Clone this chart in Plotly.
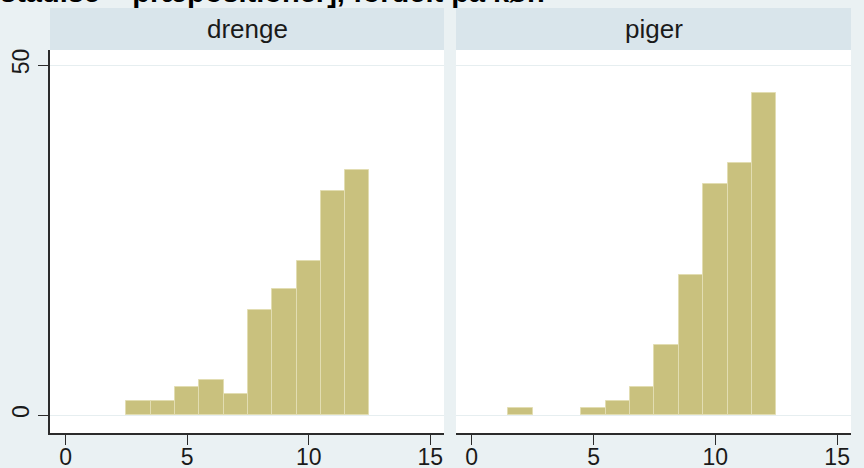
import plotly.graph_objects as go

# Data
panels = ["drenge", "piger"]
drenge_bins = [3, 4, 5, 6, 7, 8, 9, 10, 11, 12]
drenge_counts = [2, 2, 4, 5, 3, 15, 18, 22, 32, 35]
piger_bins = [2, 5, 6, 7, 8, 9, 10, 11, 12]
piger_counts = [1, 1, 2, 4, 10, 20, 33, 36, 46]
x_ticks = [0, 5, 10, 15]
y_ticks = [0, 50]
title_text = "stadise – præpositioner], fordelt på køn"

W, H = 864, 468
BG = "#eaf1f3"
STRIP = "#d9e5eb"
BAR = "#c9c17e"
BAR_LINE = "#e2ddb2"
AX = "#2b2b2b"
FONT = "Liberation Sans, Arial, sans-serif"

def px(x):
    return x / W

def py(y):
    return 1 - y / H

fig = go.Figure()

fig.add_trace(go.Bar(x=drenge_bins, y=drenge_counts, width=1,
                     marker=dict(color=BAR, line=dict(color=BAR_LINE, width=1)),
                     xaxis="x", yaxis="y", showlegend=False))
fig.add_trace(go.Bar(x=piger_bins, y=piger_counts, width=1,
                     marker=dict(color=BAR, line=dict(color=BAR_LINE, width=1)),
                     xaxis="x2", yaxis="y2", showlegend=False))

top, bottom = 50, 433
xr = [-0.646, 15.568]
yr = [-2.571, 52.143]
ydom = [py(bottom), py(top)]

common_x = dict(range=xr, tickvals=x_ticks, ticks="outside", ticklen=10, tickwidth=1.3,
                tickcolor=AX, showline=True, linecolor=AX, linewidth=1.5,
                showgrid=False, zeroline=False, automargin=False,
                ticklabelstandoff=-7,
                tickfont=dict(family=FONT, size=23, color="#1a1a1a"))

fig.update_layout(
    width=W, height=H,
    margin=dict(l=0, r=0, t=0, b=0),
    paper_bgcolor=BG, plot_bgcolor="white",
    bargap=0,
    xaxis=dict(domain=[px(50), px(444)], anchor="y", **common_x),
    xaxis2=dict(domain=[px(456), px(851)], anchor="y2", **common_x),
    yaxis=dict(domain=ydom, range=yr, tickvals=y_ticks, ticks="outside", ticklen=10,
               tickwidth=1.3, tickcolor=AX, showline=True, linecolor=AX, linewidth=1.5,
               showgrid=True, gridcolor="#e6eef0", gridwidth=1, zeroline=False,
               tickangle=-90, anchor="x", automargin=False,
               tickfont=dict(family=FONT, size=23, color="#1a1a1a")),
    yaxis2=dict(domain=ydom, range=yr, tickvals=y_ticks, showticklabels=False,
                ticks="", showline=False, showgrid=True, gridcolor="#e6eef0",
                gridwidth=1, zeroline=False, anchor="x2", automargin=False),
)

# strips
for (x0, x1), label in zip([(50, 444), (456, 851)], panels):
    fig.add_shape(type="rect", xref="paper", yref="paper",
                  x0=px(x0), x1=px(x1), y0=py(50), y1=py(8),
                  fillcolor=STRIP, line=dict(width=0), layer="below")
    fig.add_annotation(xref="paper", yref="paper", x=px((x0 + x1) / 2), y=py(29),
                       text=label, showarrow=False, xanchor="center", yanchor="middle",
                       font=dict(family=FONT, size=26, color="#1a1a1a"))

fig.add_annotation(xref="paper", yref="paper", x=px(547), y=py(-8),
                   text="<b>" + title_text + "</b>", showarrow=False,
                   xanchor="right", yanchor="middle",
                   font=dict(family=FONT, size=29, color="#000000"))

fig.write_html("out.html",
               config={"displayModeBar": False},
               post_script="document.body.style.margin='0px';"
                           "document.body.style.overflow='hidden';")
